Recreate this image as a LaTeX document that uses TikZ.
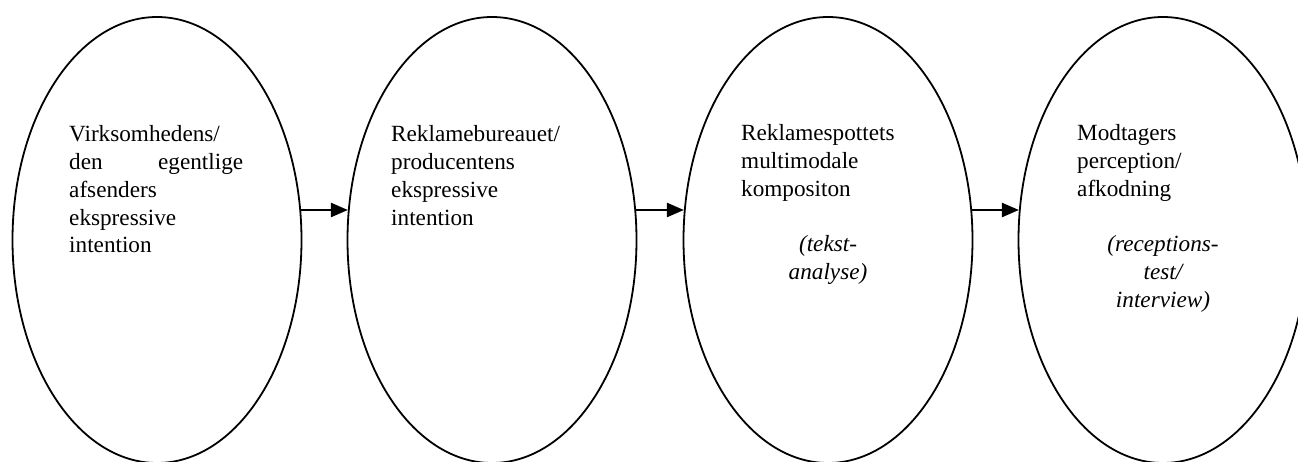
\documentclass[tikz,border=0pt]{standalone}
\usepackage{fontspec}
\setmainfont{Liberation Serif}
\usetikzlibrary{shapes.geometric,arrows.meta}
\tikzset{
  oval/.style={draw=black, line width=1.8pt, ellipse, minimum width=289pt, minimum height=446pt, inner sep=0pt},
  txt/.style={anchor=base west, inner sep=0pt, align=left, text width=#1,
    font=\fontsize{23.2pt}{27.7pt}\selectfont},
  itxt/.style={anchor=base, inner sep=0pt, align=center, text width=160pt,
    font=\fontsize{23.2pt}{27.7pt}\selectfont\itshape},
  flow/.style={line width=2.4pt, -{Triangle[length=17pt,width=14pt]}}
}
\begin{document}
\begin{tikzpicture}[x=1pt,y=1pt]
\useasboundingbox (0,0) rectangle (1298,-462);
\node[oval] (e1) at (157,-240) {};
\node[oval] (e2) at (492,-240) {};
\node[oval] (e3) at (828,-240) {};
\node[oval] (e4) at (1163,-240) {};
\node[txt=174pt] (t1) at (69,-142) {Virksomhedens/\\den\hfill egentlige\\afsenders\\ekspressive\\intention};
\node[txt=190pt] (t2) at (391,-142) {Reklamebureauet/\\producentens\\ekspressive\\intention};
\node[txt=180pt] (t3) at (741,-141) {Reklamespottets\\multimodale\\kompositon};
\node[txt=180pt] (t4) at (1077,-141) {Modtagers\\perception/\\afkodning};
\node[itxt] (i3) at (828,-252) {(tekst-\\analyse)};
\node[itxt] (i4) at (1163,-252) {(receptions-\\test/\\interview)};
\draw[flow] ([shift={(-1.3pt,30pt)}]e1.east) -- ([shift={(1.3pt,30pt)}]e2.west);
\draw[flow] ([shift={(-1.3pt,30pt)}]e2.east) -- ([shift={(1.3pt,30pt)}]e3.west);
\draw[flow] ([shift={(-1.3pt,30pt)}]e3.east) -- ([shift={(1.3pt,30pt)}]e4.west);
\end{tikzpicture}
\end{document}
